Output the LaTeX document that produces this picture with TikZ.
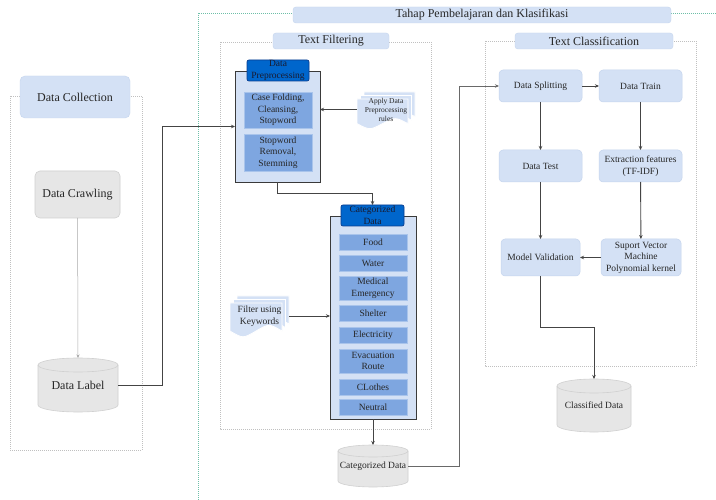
\documentclass[tikz,border=0pt]{standalone}
\usepackage{fontspec}
\setmainfont{Liberation Serif}
\newfontfamily\tnr{Liberation Serif}
\usetikzlibrary{arrows.meta}
\definecolor{textc}{HTML}{262626}
\definecolor{tb}{HTML}{D4E1F5}
\definecolor{tbd}{HTML}{C5D5EE}
\definecolor{grayf}{HTML}{E6E6E6}
\definecolor{grayd}{HTML}{D0D0D0}
\definecolor{itemc}{HTML}{7EA6E0}
\definecolor{itemd}{HTML}{A9C4EB}
\definecolor{headc}{HTML}{0066CC}
\definecolor{headd}{HTML}{0A3D8F}
\definecolor{headt}{HTML}{1A1A2E}
\definecolor{contc}{HTML}{C0C0C0}
\definecolor{tealc}{HTML}{6FBFA8}
\definecolor{arrc}{HTML}{444444}
\definecolor{arrl}{HTML}{AAAAAA}
\definecolor{prepf}{HTML}{D4E1F5}
\definecolor{prepd}{HTML}{3A3A3A}
\newcommand\docsh[4]{%
  \filldraw[fill=tb, draw=white, line width=0.8pt]
    (#1,-#2) -- ({#1+#3},-#2) -- ({#1+#3},{-(#2+0.85*#4)})
    .. controls ({#1+0.75*#3},{-(#2+0.62*#4)}) .. ({#1+0.5*#3},{-(#2+0.85*#4)})
    .. controls ({#1+0.25*#3},{-(#2+1.08*#4)}) .. (#1,{-(#2+0.85*#4)}) -- cycle;}
\newcommand\cylsh[5]{%
  \pgfmathsetmacro\cylrx{(#3-#1)/2}%
  \filldraw[fill=grayf, draw=grayd, line width=0.6pt]
    (#1,{-(#2+#5)}) -- (#1,{-(#4-#5)})
    arc[start angle=180,end angle=360,x radius=\cylrx pt,y radius=#5 pt]
    -- (#3,{-(#2+#5)})
    arc[start angle=0,end angle=180,x radius=\cylrx pt,y radius=#5 pt] -- cycle;
  \draw[draw=grayd, line width=0.6pt] (#1,{-(#2+#5)})
    arc[start angle=180,end angle=360,x radius=\cylrx pt,y radius=#5 pt];}
\begin{document}
\begin{tikzpicture}[x=1pt,y=1pt,
  base/.style={inner sep=0pt, outer sep=0pt, align=center, text=textc,
    font=\tnr\fontsize{9.5}{11.5}\selectfont},
  bigf/.style={font=\tnr\fontsize{12}{14}\selectfont},
  ttl/.style={base, bigf, fill=tb, draw=tbd, line width=0.4pt, rounded corners=3pt},
  cbox/.style={base, fill=tb, draw=tbd, line width=0.5pt, rounded corners=4pt},
  item/.style={base, fill=itemc, draw=itemd, line width=0.6pt, minimum width=68pt},
  head/.style={base, fill=headc, draw=headd, rounded corners=2pt, line width=0.7pt, text=headt},
  cont/.style={draw=contc, line width=0.5pt, dash pattern=on 1pt off 1pt},
  tealcont/.style={draw=tealc, line width=0.7pt, dash pattern=on 1pt off 1pt},
  arr/.style={draw=arrc, line width=0.9pt, -{Stealth[length=4pt,width=3.5pt]}},
  arrlight/.style={draw=arrl, line width=0.5pt, -{Stealth[length=3.5pt,width=3pt]}},
  lbl/.style={base, fill=none, draw=none}
]
\useasboundingbox (0,0) rectangle (716,-500);
\fill[white] (0,0) rectangle (716,-500);

% ---------- containers ----------
\draw[tealcont] (716,-13) -- (198,-13) -- (198,-500);
\draw[cont] (10,-96) rectangle (142,-450);
\draw[cont] (220,-42) rectangle (431,-429);
\draw[cont] (485,-41) rectangle (696,-366);

% ---------- titles ----------
\node[ttl, minimum width=378pt, minimum height=16pt] (tahap) at (482,-15) {Tahap Pembelajaran dan Klasifikasi};
\node[ttl, minimum width=110pt, minimum height=42pt, rounded corners=5pt] (dctitle) at (75,-97) {Data Collection};
\node[ttl, minimum width=116pt, minimum height=16pt] (tftitle) at (331,-41) {Text Filtering};
\node[ttl, minimum width=158pt, minimum height=16pt] (tctitle) at (594,-41) {Text Classification};

% ---------- Data Collection ----------
\node[base, bigf, fill=grayf, draw=grayd, line width=0.6pt, rounded corners=5pt,
  minimum width=85pt, minimum height=47pt] (dcrawl) at (77.5,-194.5) {Data Crawling};
\cylsh{38}{358}{118}{412}{7}
\node[lbl, bigf, minimum width=80pt, minimum height=54pt] (dlabel) at (78,-385) {\raisebox{-7pt}{Data Label}};

% ---------- Text Filtering ----------
\node[base, fill=prepf, draw=prepd, line width=0.8pt, minimum width=85pt, minimum height=111pt] (prep) at (277.5,-126.5) {};
\node[head, minimum width=62pt, minimum height=21pt] (prephead) at (278,-70.5) {Data\\Preprocessing};
\node[item, minimum height=36pt] (p1) at (278,-110) {Case Folding,\\Cleansing,\\Stopword};
\node[item, minimum height=37pt] (p2) at (278,-152.5) {Stopword\\Removal,\\Stemming};

\docsh{364}{92}{51}{29}
\docsh{360.5}{95.5}{51}{29}
\docsh{357}{99}{51}{29}
\node[lbl, minimum width=58pt, minimum height=35pt, font=\tnr\fontsize{7.5}{9}\selectfont] (apply) at (386,-109.5) {Apply Data\\Preprocessing\\rules};

\node[base, fill=prepf, draw=prepd, line width=0.8pt, minimum width=86pt, minimum height=203pt] (catcont) at (373,-317.5) {};
\node[head, minimum width=63pt, minimum height=21pt] (cathead) at (372.5,-215.5) {Categorized\\Data};
\node[item, minimum height=16pt] (food) at (373,-242) {Food};
\node[item, minimum height=16pt] (water) at (373,-263) {Water};
\node[item, minimum height=24pt] (medic) at (373,-288) {Medical\\Emergency};
\node[item, minimum height=16pt] (shelter) at (373,-313) {Shelter};
\node[item, minimum height=16pt] (elec) at (373,-335.5) {Electricity};
\node[item, minimum height=24pt] (evac) at (373,-361) {Evacuation\\Route};
\node[item, minimum height=16pt] (clothes) at (373,-387) {CLothes};
\node[item, minimum height=16pt] (neutral) at (373,-407) {Neutral};

\docsh{237}{296}{52}{33}
\docsh{233.5}{299.5}{52}{33}
\docsh{230}{303}{52}{33}
\node[lbl, minimum width=59pt, minimum height=40pt] (filt) at (259.5,-316) {Filter using\\Keywords};

\cylsh{338}{445}{408}{487}{6}
\node[lbl, minimum width=70pt, minimum height=42pt] (catdb) at (373,-466) {\raisebox{-6pt}{Categorized Data}};

% ---------- Text Classification ----------
\node[cbox, minimum width=83pt, minimum height=32pt] (dsplit) at (540.5,-86) {Data Splitting};
\node[cbox, minimum width=83pt, minimum height=32pt] (dtrain) at (640.5,-86) {Data Train};
\node[cbox, minimum width=83pt, minimum height=32pt] (dtest) at (540.5,-166) {Data Test};
\node[cbox, minimum width=83pt, minimum height=32pt] (extr) at (640.5,-166) {Extraction features\\(TF-IDF)};
\node[cbox, minimum width=79pt, minimum height=37pt] (mval) at (540.5,-257.5) {Model Validation};
\node[cbox, minimum width=80pt, minimum height=37pt] (svm) at (641,-257.5) {Suport Vector\\Machine\\Polynomial kernel};
\cylsh{557}{379}{631}{432}{7}
\node[lbl, minimum width=74pt, minimum height=53pt] (cdb) at (594,-405.5) {\raisebox{-7pt}{Classified Data}};

% ---------- connectors ----------
\draw[arrlight] (dcrawl) -- (dlabel.north);
\draw[arr, line width=1pt] (dlabel.east) -- ++(44,0) |- (prep.west);
\draw[arr] (apply.west) -- (apply.west -| prep.east);
\draw[arr] (prep.south) -- ++(0,-11) -| (cathead.north);
\draw[arr] (filt.east) -- (filt.east -| catcont.west);
\draw[arr] (catcont.south) -- (catdb.north);
\draw[arr, draw=arrc!80] (catdb.east) -- ++(51,0) |- (dsplit.west);
\draw[arr] (dsplit) -- (dtrain);
\draw[arr] (dsplit) -- (dtest);
\draw[arr] (dtrain) -- (extr);
\draw[arr] (dtest) -- (mval);
\draw[arr] (extr) -- (svm);
\draw[arr, line width=1.3pt] (svm) -- (mval);
\draw[arr] (mval.south) -- ++(0,-51.5) -| (cdb.north);
\end{tikzpicture}
\end{document}
